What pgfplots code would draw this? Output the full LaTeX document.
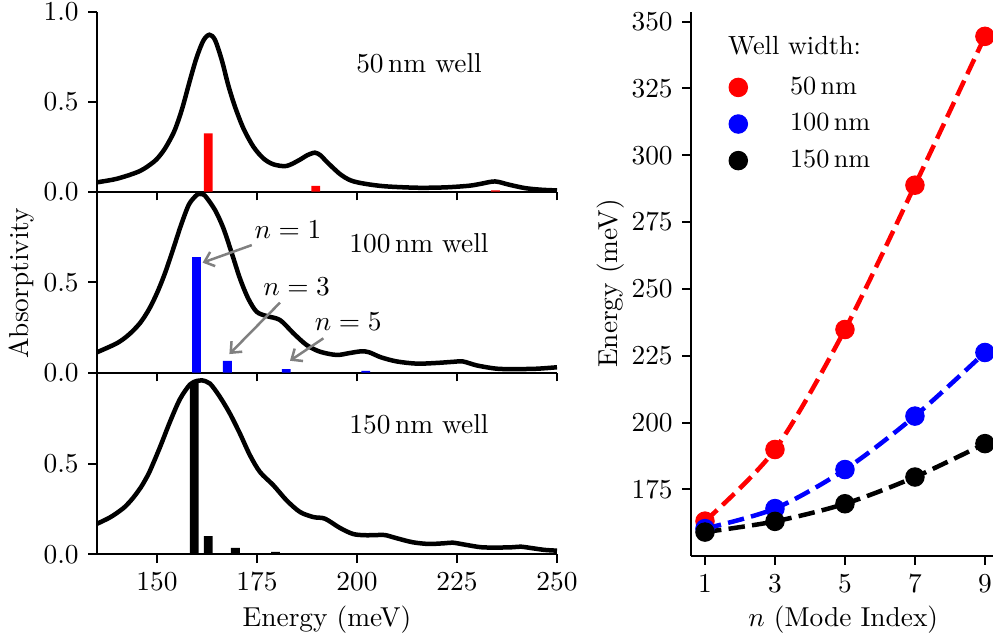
\documentclass[11pt,border=0pt]{standalone}
\usepackage{pgfplots}
\pgfplotsset{compat=1.18}
\usetikzlibrary{arrows.meta}
\newcommand{\smallfont}{\fontsize{10.5}{12.6}\selectfont}
\begin{document}
\begin{tikzpicture}
\pgfplotsset{
  leftpanel/.style={
    scale only axis, width=184pt, anchor=south west,
    xmin=135, xmax=250, ymin=0, ymax=1,
    axis x line*=bottom, axis y line*=left,
    axis line style={-, line width=0.8pt},
    tick align=outside, major tick length=3.5pt,
    tick style={line width=0.8pt, black},
    xtick={150,175,200,225,250},
  },
  curve/.style={black, line width=1.8pt, smooth, no markers},
  mylegend/.style={legend image code/.code={\draw[##1] plot coordinates {(0pt,0pt)}; \path (-6pt,0pt) (18.5pt,0pt);}},
}
% ---------- top panel: 50 nm ----------
\begin{axis}[leftpanel, at={(38.8pt,-76.68pt)}, height=72pt,
  ytick={0,0.5,1}, yticklabels={0.0,0.5,1.0}, xticklabels={}]
\addplot[ybar, bar width=2.2, fill=red, draw=none] coordinates {(162.8,0.324)(189.7,0.032)(234.6,0.007)};
\addplot[curve] coordinates {(135,0.052)(138,0.063)(140,0.072)(143,0.092)(145.75,0.115)(147.75,0.142)(149.9,0.18)(152,0.24)(154.1,0.325)(155.4,0.4)(156.6,0.485)(158.25,0.62)(159.9,0.745)(161.6,0.84)(163.1,0.872)(164.5,0.843)(166.2,0.731)(167.8,0.593)(169.5,0.472)(171.6,0.352)(174.1,0.25)(176.6,0.185)(179.1,0.152)(182.4,0.143)(185.75,0.178)(187.5,0.202)(189.5,0.217)(191,0.2)(192.4,0.167)(195.75,0.098)(198.5,0.062)(202,0.044)(207,0.03)(215,0.022)(222,0.024)(228,0.033)(231,0.044)(234.5,0.057)(238,0.039)(242,0.02)(246,0.011)(250,0.007)};
\node at (rel axis cs:0.7,0.715) {50\,nm well};
\end{axis}
% ---------- middle panel: 100 nm ----------
\begin{axis}[leftpanel, at={(38.8pt,-149.08pt)}, height=72.4pt, clip=false,
  ytick={0,0.5}, yticklabels={0.0,0.5}, xticklabels={}]
\addplot[ybar, bar width=2.2, fill=blue, draw=none] coordinates {(159.9,0.638)(167.6,0.065)(182.3,0.02)(202.2,0.01)};
\addplot[curve] coordinates {(135,0.113)(140,0.163)(143,0.211)(145.75,0.274)(148,0.35)(150,0.44)(152,0.55)(154,0.68)(156,0.815)(158,0.93)(160,0.983)(161,0.987)(162,0.978)(164.5,0.899)(166.6,0.798)(168.7,0.66)(170.75,0.52)(172.8,0.41)(174.9,0.337)(177.4,0.313)(180.75,0.291)(184.1,0.218)(187.4,0.153)(190.75,0.116)(194.9,0.098)(198,0.108)(201,0.118)(203,0.113)(206,0.085)(210,0.062)(215,0.05)(220,0.054)(224,0.06)(226.5,0.062)(230,0.04)(235,0.022)(240,0.02)(245,0.022)(250,0.03)};
\node at (rel axis cs:0.7,0.715) {100\,nm well};
\node[font=\smallfont] at (axis cs:182.75,0.788) {$n=1$};
\node[font=\smallfont] at (axis cs:184.9,0.475) {$n=3$};
\node[font=\smallfont] at (axis cs:197.8,0.282) {$n=5$};
\draw[gray, line width=1pt, -{Straight Barb[length=3.5pt,width=6pt]}] (axis cs:173.7,0.705) -- (axis cs:161.4,0.608);
\draw[gray, line width=1pt, -{Straight Barb[length=3.5pt,width=6pt]}] (axis cs:180.75,0.387) -- (axis cs:168.1,0.103);
\draw[gray, line width=1pt, -{Straight Barb[length=3.5pt,width=6pt]}] (axis cs:191.6,0.19) -- (axis cs:183.25,0.066);
\end{axis}
% ---------- bottom panel: 150 nm ----------
\begin{axis}[leftpanel, at={(38.8pt,-221.72pt)}, height=72.64pt,
  ytick={0,0.5}, yticklabels={0.0,0.5}]
\addplot[ybar, bar width=2.2, fill=black, draw=none] coordinates {(159.3,0.949)(162.8,0.1)(169.6,0.035)(179.6,0.013)(192.1,0.007)};
\addplot[curve] coordinates {(135,0.168)(138,0.2)(140,0.228)(142,0.262)(144,0.31)(146,0.37)(147.2,0.415)(148.25,0.46)(150.75,0.59)(153.25,0.73)(155.75,0.855)(158.25,0.935)(160,0.955)(161.2,0.958)(163.25,0.94)(165.75,0.866)(168.25,0.774)(170.75,0.664)(173.25,0.545)(175.75,0.453)(179.1,0.38)(182.4,0.297)(185.75,0.233)(189.1,0.205)(192,0.196)(195.75,0.145)(199,0.112)(202,0.105)(205,0.106)(207,0.106)(210,0.088)(214,0.066)(218,0.057)(222,0.061)(224,0.064)(227,0.053)(231,0.039)(235,0.037)(239,0.039)(241,0.042)(244,0.033)(247,0.024)(250,0.02)};
\node at (rel axis cs:0.7,0.715) {150\,nm well};
\end{axis}
% ---------- right panel ----------
\begin{axis}[scale only axis, anchor=south west, at={(276.4pt,-222.4pt)},
  width=120.8pt, height=217.7pt,
  xmin=0.6, xmax=9.23, ymin=150.05, ymax=353.7,
  axis x line*=bottom, axis y line*=left,
  axis line style={-, line width=0.8pt},
  tick align=outside, major tick length=3.5pt,
  tick style={line width=0.8pt, black},
  xtick={1,3,5,7,9}, ytick={175,200,225,250,275,300,325,350},
  legend style={draw=none, fill=none, at={(axis cs:1.28,333.35)}, anchor=north west, row sep=2pt, font=\smallfont},
  legend cell align=left]
\addplot[red, line width=1.8pt, dash pattern=on 6.6pt off 2.9pt, smooth, forget plot] coordinates {(1,163.1)(3,189.9)(5,234.8)(7,288.8)(9,344.5)};
\addplot[blue, line width=1.8pt, dash pattern=on 6.6pt off 2.9pt, smooth, forget plot] coordinates {(1,160.3)(3,167.8)(5,182.4)(7,202.4)(9,226.2)};
\addplot[black, line width=1.8pt, dash pattern=on 6.6pt off 2.9pt, smooth, forget plot] coordinates {(1,159.0)(3,163.0)(5,169.6)(7,179.6)(9,192.1)};
\addplot[only marks, mark=*, mark size=3.7pt, red, mylegend] coordinates {(1,163.1)(3,189.9)(5,234.8)(7,288.8)(9,344.5)};
\addlegendentry{50\,nm}
\addplot[only marks, mark=*, mark size=3.7pt, blue, mylegend] coordinates {(1,160.3)(3,167.8)(5,182.4)(7,202.4)(9,226.2)};
\addlegendentry{100\,nm}
\addplot[only marks, mark=*, mark size=3.7pt, black, mylegend] coordinates {(1,159.0)(3,163.0)(5,169.6)(7,179.6)(9,192.1)};
\addlegendentry{150\,nm}
\node[anchor=base west, inner sep=0pt, font=\smallfont] at (axis cs:1.65,337.8) {Well width:};
\end{axis}
% ---------- axis labels ----------
\node[anchor=base] at (130.8pt,-250.7pt) {Energy (meV)};
\node[rotate=90, anchor=base] at (11.32pt,-113.3pt) {Absorptivity};
\node[rotate=90, anchor=base] at (246.8pt,-113.4pt) {Energy (meV)};
\node[anchor=base] at (337.3pt,-250.5pt) {$n$ (Mode Index)};
\pgfresetboundingbox
\useasboundingbox (0pt,0pt) rectangle (397.2pt,-256.8pt);
\end{tikzpicture}
\end{document}
